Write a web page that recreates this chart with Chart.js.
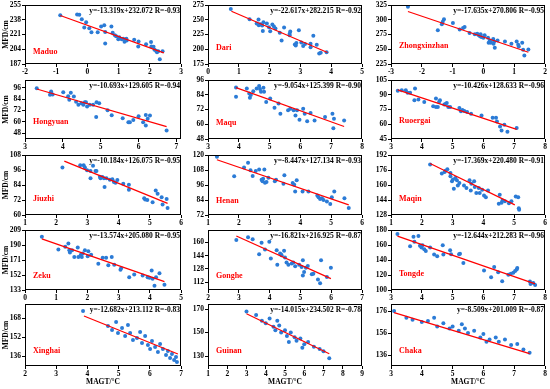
<!DOCTYPE html>
<html><head><meta charset="utf-8">
<script src="https://cdn.jsdelivr.net/npm/chart.js@4.4.1/dist/chart.umd.min.js"></script>
<style>
html,body{margin:0;padding:0;background:#fff;}
body{width:550px;height:389px;position:relative;overflow:hidden;}
canvas{position:absolute;}
</style></head><body>
<script>
// ---------- DATA ----------
const stations = ['Maduo','Dari','Zhongxinzhan','Hongyuan','Maqu','Ruoergai','Jiuzhi','Henan','Maqin','Zeku','Gonghe','Tongde','Xinghai','Guinan','Chaka'];
const equations = ['y=-13.319x+232.072 R=-0.93','y=-22.617x+282.215 R=-0.92','y=-17.635x+270.806 R=-0.95',
 'y=-10.693x+129.605 R=-0.94','y=-9.054x+125.399 R=-0.90','y=-10.426x+128.633 R=-0.96',
 'y=-10.184x+126.075 R=-0.95','y=-8.447x+127.134 R=-0.93','y=-17.369x+220.480 R=-0.91',
 'y=-13.574x+205.080 R=-0.95','y=-16.821x+216.925 R=-0.87','y=-12.644x+212.283 R=-0.96',
 'y=-12.682x+213.112 R=-0.83','y=-14.015x+234.502 R=-0.78','y=-8.509x+201.009 R=-0.87'];

const maduoX = [-0.87,-0.33,-0.26,-0.18,-0.04,-0.10,0.06,0.13,0.33,0.44,0.54,0.57,0.57,0.77,0.81,0.88,0.92,0.99,1.02,1.10,1.15,1.19,1.25,1.26,1.50,1.64,1.63,1.88,2.04,2.05,2.12,2.20,2.23,2.27,2.32,2.41,2.15];
const maduoY = [243.3,244.1,243.7,238.7,235.2,229.0,228.2,223.5,223.5,230.1,231.7,223.9,210.7,230.1,223.1,220.0,218.9,215.4,217.7,215.4,216.2,212.7,216.2,214.2,215.0,213.0,207.2,209.9,212.3,207.2,206.8,202.2,200.6,201.8,192.5,201.8,203.3];
const maduoLineX = [-0.87,2.45], maduoLineY = [242.9,199.8];
const maduoXTicks = [-2,-1,0,1,2,3], maduoYTicks = [187,204,221,238,255];
const maduoXRange = [-2,3], maduoYRange = [187,255];

const dariX = [0.74,1.35,1.64,1.58,1.65,1.70,1.76,1.80,1.78,1.91,1.98,2.02,2.09,2.14,2.19,2.33,2.39,2.47,2.65,2.67,2.65,2.82,2.85,2.87,2.95,3.03,3.09,3.15,3.33,3.33,3.42,3.53,3.61,3.66,3.85];
const dariY = [268.1,251.0,250.4,243.6,240.7,242.4,240.1,245.9,231.0,243.6,237.3,230.4,241.9,238.4,235.0,228.1,215.0,236.7,226.4,229.9,223.6,208.1,206.4,210.4,232.1,211.6,205.3,208.7,209.3,203.6,223.0,207.6,192.7,193.9,195.0];
const dariLineX = [0.76,3.88], dariLineY = [264.5,194.5];
const dariXTicks = [0,1,2,3,4,5], dariYTicks = [175,200,225,250,275];
const dariXRange = [0,5], dariYRange = [175,275];

const zhongX = [-2.45,-1.48,-1.35,-1.32,-1.28,-0.99,-0.77,-0.66,-0.61,-0.45,-0.28,-0.20,-0.16,-0.12,-0.09,-0.07,0.00,0.04,0.15,0.21,0.17,0.24,0.32,0.35,0.33,0.37,0.46,0.70,0.91,1.08,1.13,1.15,1.29,1.33,1.46,1.26];
const zhongY = [322.1,282.1,292.4,296.4,301.0,294.7,283.3,286.1,287.9,277.6,275.3,276.4,274.1,272.4,275.3,270.7,269.6,273.6,269.6,265.0,261.0,261.0,267.3,263.3,259.3,252.4,265.0,263.3,259.3,263.3,257.6,254.7,249.0,239.3,249.6,261.0];
const zhongLineX = [-2.45,1.46], zhongLineY = [314.0,245.0];
const zhongXTicks = [-3,-2,-1,0,1,2], zhongYTicks = [225,250,275,300,325];
const zhongXRange = [-3,2], zhongYRange = [225,325];

const hongX = [3.31,3.69,3.69,3.66,3.73,4.01,4.14,4.17,4.21,4.29,4.35,4.41,4.49,4.54,4.58,4.61,4.64,4.71,4.80,4.89,4.96,4.88,5.18,5.29,5.58,5.73,5.77,5.86,6.00,6.12,6.19,6.19,6.24,6.30,6.74];
const hongY = [95.6,92.1,90.7,88.6,88.9,91.4,87.2,83.3,90.7,86.8,81.2,78.0,79.8,78.0,80.8,80.8,76.2,78.0,78.0,80.8,79.8,65.3,72.4,67.1,63.9,59.6,59.6,62.1,66.0,59.6,56.1,67.4,63.2,66.7,50.8];
const hongLineX = [3.31,6.74], hongLineY = [94.8,55.0];
const hongXTicks = [3,4,5,6,7], hongYTicks = [48,60,72,84,96];
const hongXRange = [3,7.12], hongYRange = [41.9,104.3];

const maquX = [3.91,3.91,4.26,4.34,4.36,4.39,4.47,4.58,4.66,4.69,4.72,4.80,4.82,4.89,5.02,5.16,5.29,5.35,5.60,5.67,5.78,5.84,5.89,5.97,6.09,6.14,6.22,6.33,6.46,6.80,7.04,7.09,7.07,7.42];
const maquY = [90.0,82.3,89.1,85.0,81.5,83.7,86.9,89.1,91.1,88.6,86.4,89.7,86.4,78.2,80.9,73.5,76.8,68.6,71.3,72.7,71.3,67.2,71.3,63.6,72.7,68.6,62.5,69.1,63.1,65.8,68.6,64.5,56.8,63.1];
const maquLineX = [3.91,7.42], maquLineY = [89.8,58.2];
const maquXTicks = [3,4,5,6,7,8], maquYTicks = [48,60,72,84,96];
const maquXRange = [3,8], maquYRange = [48,96];

const ruoX = [3.22,3.35,3.48,3.54,3.62,3.78,3.76,3.89,4.08,4.37,4.46,4.46,4.52,4.56,4.59,4.73,4.77,4.81,4.86,4.92,5.22,5.27,5.32,5.38,5.47,5.60,5.94,6.30,6.41,6.44,6.54,6.59,6.68,6.78,7.08];
const ruoY = [94.0,94.7,94.7,92.0,92.0,96.4,84.4,85.1,82.7,78.3,77.6,86.1,77.6,82.7,84.4,80.0,80.7,81.7,77.6,77.6,76.5,73.1,74.5,73.5,72.4,70.7,69.0,66.6,66.6,62.8,57.7,53.6,59.4,52.5,56.3];
const ruoLineX = [3.22,7.08], ruoLineY = [95.0,54.8];
const ruoXTicks = [3,4,5,6,7,8], ruoYTicks = [45,60,75,90,105];
const ruoXRange = [3,8], ruoYRange = [45,105];

const jiuX = [2.20,2.77,2.88,2.92,2.99,3.10,3.18,3.26,3.29,3.10,3.40,3.42,3.48,3.53,3.55,3.61,3.72,3.80,3.85,3.96,3.90,4.15,4.33,4.33,4.82,4.85,4.92,5.09,5.19,5.25,5.38,5.41,5.54,5.57];
const jiuY = [98.0,99.9,99.9,98.0,95.9,95.3,99.4,95.3,95.3,89.4,90.7,89.4,90.5,89.4,82.4,89.4,88.3,88.6,86.4,88.0,85.9,85.1,84.3,80.2,73.5,72.4,72.1,70.2,79.7,77.0,74.3,68.4,72.9,65.7];
const jiuLineX = [2.26,5.57], jiuLineY = [103.1,69.3];
const jiuXTicks = [1,2,3,4,5,6], jiuYTicks = [60,72,84,96,108];
const jiuXRange = [1,6], jiuYRange = [60,108];

const henanX = [1.29,1.85,2.17,2.30,2.38,2.45,2.55,2.66,2.74,2.77,2.79,2.83,2.85,2.90,2.96,3.17,3.21,3.45,3.48,3.75,3.80,3.88,3.83,4.07,4.26,4.55,4.59,4.64,4.70,4.75,4.86,4.97,5.02,5.10,5.43,5.57];
const henanY = [118.7,103.0,110.0,113.8,107.9,103.3,107.3,108.4,100.3,99.0,101.1,108.4,97.9,98.4,101.9,99.0,100.3,97.1,103.8,97.6,96.3,99.8,90.9,90.9,90.9,87.6,86.3,84.9,85.5,84.1,82.8,80.9,86.3,90.9,85.5,77.7];
const henanLineX = [1.29,5.57], henanLineY = [116.2,80.1];
const henanXTicks = [1,2,3,4,5,6], henanYTicks = [72,84,96,108,120];
const henanXRange = [1,6], henanYRange = [72,120];

const maqinX = [2.27,2.65,2.74,2.77,2.83,2.93,2.93,2.98,3.01,3.04,3.09,3.14,3.17,3.22,3.37,3.45,3.55,3.59,3.61,3.70,3.72,3.77,3.85,3.88,3.96,4.02,4.08,4.15,4.50,4.59,4.62,4.70,4.53,4.83,4.91,5.05,5.13,5.15,5.16];
const maqinY = [181.9,172.2,174.0,175.1,176.9,169.3,172.9,164.0,165.8,156.0,167.5,165.0,159.6,162.2,159.6,156.8,165.0,154.2,161.4,164.0,157.8,151.4,156.8,151.4,155.0,148.8,147.0,154.2,139.9,141.0,143.5,142.7,149.6,140.6,142.7,147.8,147.0,135.2,133.7];
const maqinLineX = [2.27,5.02], maqinLineY = [183.0,138.8];
const maqinXTicks = [1,2,3,4,5,6], maqinYTicks = [128,144,160,176,192];
const maqinXRange = [1,6], maqinYRange = [128,192];

const zekuX = [0.54,1.07,1.29,1.39,1.42,1.44,1.51,1.58,1.69,1.71,1.79,1.82,1.85,1.92,2.01,2.03,2.12,2.35,2.49,2.60,2.67,2.78,2.86,3.06,3.08,3.34,3.50,3.77,3.93,3.99,4.06,4.15,4.20,4.31,4.47,4.09];
const zekuY = [200.5,184.2,187.7,191.9,183.4,180.4,183.4,174.8,186.8,174.8,177.8,174.8,179.1,183.4,175.7,182.1,177.8,166.3,174.0,174.0,164.2,174.8,165.0,158.6,160.7,149.2,152.6,151.4,149.2,148.4,157.8,138.5,149.2,154.3,139.8,147.1];
const zekuLineX = [0.54,4.47], zekuLineY = [197.7,143.6];
const zekuXTicks = [0,1,2,3,4,5], zekuYTicks = [133,152,171,190,209];
const zekuXRange = [0,5], zekuYRange = [133,209];

const gongheX = [2.92,3.30,3.45,3.74,3.66,3.85,3.99,4.04,4.23,4.25,4.34,4.37,4.39,4.47,4.50,4.55,4.61,4.72,4.77,4.83,4.96,5.04,5.08,5.12,5.08,5.18,5.24,5.37,5.42,5.57,5.64,5.67,5.86,5.99];
const gongheY = [162.8,166.1,163.7,159.6,145.8,151.5,160.8,140.5,150.6,133.1,146.6,145.4,144.5,149.8,141.7,135.6,133.1,134.4,135.6,131.1,133.1,130.3,138.4,124.2,120.1,129.5,131.5,121.4,122.2,115.2,110.8,138.4,118.1,129.5];
const gongheLineX = [2.92,5.99], gongheLineY = [167.8,116.2];
const gongheXTicks = [2,3,4,5,6,7], gongheYTicks = [112,128,144,160];
const gongheXRange = [2,7], gongheYRange = [102.5,175];

const tongdeX = [3.21,3.62,3.73,3.76,3.89,3.94,3.99,4.02,4.08,4.13,4.27,4.40,4.50,4.68,4.70,4.92,4.95,5.21,5.24,5.35,6.02,6.25,6.35,6.48,6.61,6.81,6.89,6.97,7.03,7.08,7.10,7.51,7.53,7.62,7.68];
const tongdeY = [174.6,158.4,171.0,164.3,171.9,158.9,156.6,159.8,154.4,152.1,156.6,147.2,144.9,159.8,147.2,153.0,147.6,147.6,148.5,136.0,126.1,117.1,130.6,123.8,111.7,120.2,121.6,122.9,125.2,127.4,129.2,111.2,108.1,109.4,106.7];
const tongdeLineX = [3.21,7.68], tongdeLineY = [171.9,108.1];
const tongdeXTicks = [3,4,5,6,7,8], tongdeYTicks = [100,120,140,160,180];
const tongdeXRange = [3,8], tongdeYRange = [100,180];

const xinghaiX = [3.86,4.66,4.79,4.92,4.98,5.11,5.21,5.30,5.37,5.46,5.59,5.69,5.75,5.85,5.94,6.01,6.07,6.17,6.26,6.33,6.42,6.52,6.58,6.65,6.71,6.78,6.84,6.87];
const xinghaiY = [173.9,161.3,157.9,164.6,155.4,159.6,152.8,162.1,155.4,149.5,151.2,156.2,146.9,152.8,145.3,141.9,148.6,143.6,139.4,146.1,141.9,136.8,140.2,134.3,137.7,132.6,135.2,130.9];
const xinghaiLineX = [3.89,6.90], xinghaiLineY = [169.7,137.7];
const xinghaiXTicks = [2,3,4,5,6,7], xinghaiYTicks = [136,152,168];
const xinghaiXRange = [2,7], xinghaiYRange = [127.6,179.8];

const guinanX = [3.0,3.5,3.8,4.0,4.2,4.4,4.5,4.7,4.8,5.0,5.1,5.3,5.5,5.6,5.8,6.0,6.2,6.5,6.8,7.0,7.3,4.6,5.2,5.9];
const guinanY = [168,165,160,158,162,155,152,156,150,152,147,150,146,143,145,140,142,138,136,134,128,160,142,137];
const guinanLineX = [3.0,7.3], guinanLineY = [166,132];
const guinanXTicks = [1,2,3,4,5,6,7,8,9], guinanYTicks = [130,150,170];
const guinanXRange = [1,9], guinanYRange = [121.5,174.3];

const chakaX = [3.1,3.5,3.7,4.0,4.2,4.5,4.7,4.9,5.0,5.2,5.4,5.5,5.7,5.9,6.0,6.2,6.4,6.5,6.7,6.9,7.1,7.3,7.5,4.4,5.3,6.1];
const chakaY = [176,170,168,166,167,162,165,160,162,158,160,156,158,152,155,150,152,148,150,145,146,141,138,170,164,148];
const chakaLineX = [3.1,7.5], chakaLineY = [174.6,137.2];
const chakaXTicks = [3,4,5,6,7,8], chakaYTicks = [136,156,176];
const chakaXRange = [3,8], chakaYRange = [126,182.4];

// ---------- PANEL ASSEMBLY ----------
const panels = [
 [maduoX,maduoY,maduoLineX,maduoLineY,maduoXTicks,maduoYTicks,maduoXRange,maduoYRange],
 [dariX,dariY,dariLineX,dariLineY,dariXTicks,dariYTicks,dariXRange,dariYRange],
 [zhongX,zhongY,zhongLineX,zhongLineY,zhongXTicks,zhongYTicks,zhongXRange,zhongYRange],
 [hongX,hongY,hongLineX,hongLineY,hongXTicks,hongYTicks,hongXRange,hongYRange],
 [maquX,maquY,maquLineX,maquLineY,maquXTicks,maquYTicks,maquXRange,maquYRange],
 [ruoX,ruoY,ruoLineX,ruoLineY,ruoXTicks,ruoYTicks,ruoXRange,ruoYRange],
 [jiuX,jiuY,jiuLineX,jiuLineY,jiuXTicks,jiuYTicks,jiuXRange,jiuYRange],
 [henanX,henanY,henanLineX,henanLineY,henanXTicks,henanYTicks,henanXRange,henanYRange],
 [maqinX,maqinY,maqinLineX,maqinLineY,maqinXTicks,maqinYTicks,maqinXRange,maqinYRange],
 [zekuX,zekuY,zekuLineX,zekuLineY,zekuXTicks,zekuYTicks,zekuXRange,zekuYRange],
 [gongheX,gongheY,gongheLineX,gongheLineY,gongheXTicks,gongheYTicks,gongheXRange,gongheYRange],
 [tongdeX,tongdeY,tongdeLineX,tongdeLineY,tongdeXTicks,tongdeYTicks,tongdeXRange,tongdeYRange],
 [xinghaiX,xinghaiY,xinghaiLineX,xinghaiLineY,xinghaiXTicks,xinghaiYTicks,xinghaiXRange,xinghaiYRange],
 [guinanX,guinanY,guinanLineX,guinanLineY,guinanXTicks,guinanYTicks,guinanXRange,guinanYRange],
 [chakaX,chakaY,chakaLineX,chakaLineY,chakaXTicks,chakaYTicks,chakaXRange,chakaYRange]
];

// ---------- LAYOUT / STYLE ----------
const FONT = "'Liberation Serif','Times New Roman',serif";
Chart.defaults.font.family = FONT;
Chart.defaults.font.size = 7.5;
Chart.defaults.font.weight = 'bold';
Chart.defaults.color = '#000';

const colsX = [[25,181],[208,362],[391,545]];
const rowsY = [[5,64],[80,139],[155,215],[230,290],[304,366]];
const nameFrac = [0.79,0.72,0.70, 0.71,0.73,0.70, 0.74,0.76,0.74, 0.76,0.76,0.74, 0.76,0.76,0.76];

const framePlugin = {
  id:'frameText',
  afterDraw(chart){
    const {ctx, chartArea:a} = chart;
    const i = chart.options.plugins.frameText.idx;
    ctx.save();
    ctx.strokeStyle = '#000'; ctx.lineWidth = 1;
    ctx.strokeRect(a.left+0.5, a.top+0.5, a.right-a.left-1, a.bottom-a.top-1);
    ctx.font = "bold 7.5px " + FONT;
    ctx.fillStyle = '#000'; ctx.textAlign = 'right'; ctx.textBaseline = 'middle';
    ctx.fillText(equations[i], a.right-1, a.top+6.5);
    ctx.fillStyle = '#ff0000'; ctx.textAlign = 'left';
    ctx.font = "bold 8px " + FONT;
    ctx.fillText(stations[i], a.left+8, a.top + nameFrac[i]*(a.bottom-a.top));
    ctx.restore();
  }
};

panels.forEach((p,i)=>{
  const [xs,ys,lx,ly,xt,yt,xr,yr] = p;
  const col = i%3, row = Math.floor(i/3);
  const [l,r] = colsX[col], [t,b] = rowsY[row];
  const yW = col===0 ? 25 : 28, padT = 6, padR = 8, xH = row===4 ? 23 : 14;
  const w = (r-l)+yW+padR, h = (b-t)+padT+xH;
  const cv = document.createElement('canvas');
  cv.width = w; cv.height = h;
  cv.style.left = (l-yW)+'px'; cv.style.top = (t-padT)+'px';
  cv.style.width = w+'px'; cv.style.height = h+'px';
  document.body.appendChild(cv);
  new Chart(cv, {
    type:'scatter',
    data:{datasets:[
      {type:'line', data: lx.map((x,k)=>({x:x,y:ly[k]})), borderColor:'#ff0000', borderWidth:1.2,
       pointRadius:0, fill:false, tension:0, order:0},
      {type:'scatter', data: xs.map((x,k)=>({x:x,y:ys[k]})), backgroundColor:'#2b7bd6', borderColor:'#2b7bd6',
       borderWidth:0, pointRadius:2, order:1}
    ]},
    options:{
      responsive:false, animation:false, devicePixelRatio:1, events:[],
      layout:{padding:{left:0, top:padT, right:padR, bottom:0}},
      plugins:{legend:{display:false}, tooltip:{enabled:false}, frameText:{idx:i}},
      scales:{
        x:{type:'linear', position:'bottom', min:xr[0], max:xr[1],
           afterBuildTicks:s=>{ s.ticks = xt.map(v=>({value:v})); },
           afterFit:s=>{ s.height = xH; },
           grid:{display:true, drawOnChartArea:false, drawTicks:true, tickLength:3, color:'#000'},
           border:{display:false},
           ticks:{padding:1, maxRotation:0, autoSkip:false, color:'#000'},
           title:{display: row===4, text:'MAGT/°C', color:'#000', font:{size:7.5, weight:'bold'}, padding:{top:0,bottom:2.5}}
        },
        y:{type:'linear', position:'left', min:yr[0], max:yr[1],
           afterBuildTicks:s=>{ s.ticks = yt.map(v=>({value:v})); },
           afterFit:s=>{ s.width = yW; },
           grid:{display:true, drawOnChartArea:false, drawTicks:true, tickLength:3, color:'#000'},
           border:{display:false},
           ticks:{padding:1, autoSkip:false, color:'#000'},
           title:{display: col===0, text:'MFD/cm', color:'#000', font:{size:7.5, weight:'bold'}, padding:{top:2,bottom:0}}
        }
      }
    },
    plugins:[framePlugin]
  });
});
</script>
</body></html>
